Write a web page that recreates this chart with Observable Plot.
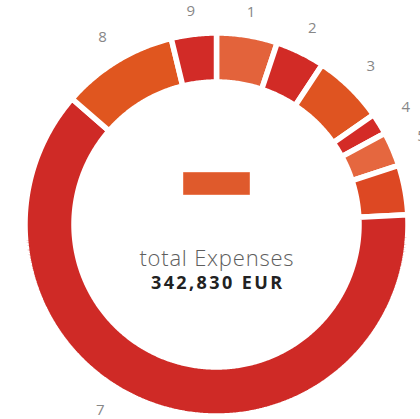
<!DOCTYPE html>
<html>
<head>
<meta charset="utf-8">
<script src="https://cdn.jsdelivr.net/npm/d3@7"></script>
<script src="https://cdn.jsdelivr.net/npm/@observablehq/plot@0.6"></script>
<style>
  html, body { margin: 0; padding: 0; background: #fff; }
  #chart { width: 420px; height: 419px; overflow: hidden; }
  #chart g[font-size="22"] text { letter-spacing: 0.8px; }
  #chart g[font-size="18"] text { letter-spacing: 2.4px; }
</style>
</head>
<body>
<div id="chart"></div>
<script>
// ---- data ----
const categories = ["1", "2", "3", "4", "5", "6", "7", "8", "9"];
const values = [17600, 14300, 20500, 6200, 10000, 14300, 213300, 33600, 13030];
const sliceColors = ["#e3633b", "#d22b26", "#df5421", "#d42b27", "#e5673f", "#dd4823", "#cf2a26", "#e0561f", "#d22b27"];
const centerTitle = "total Expenses";
const centerValue = "342,830 EUR";
const swatchColor = "#df5a2c";

// ---- layout ----
const W = 420, H = 419;
const cx = 216, cy = 224;             // donut centre in pixels
const rOuter = 191.5, rInner = 142.5; // the white stroke trims these
const labelR = a => 214 + 10 * Math.abs(Math.sin(a));

const pie = d3.pie().sort(null).value(d => d.value)(
  categories.map((c, i) => ({ key: c, value: values[i], color: sliceColors[i] }))
);

// slice outlines in data units (1 unit = 1 px, y up)
const outline = [];
for (const s of pie) {
  const n = Math.max(4, Math.ceil((s.endAngle - s.startAngle) / (Math.PI / 360)));
  for (let k = 0; k <= n; k++) {
    const a = s.startAngle + (s.endAngle - s.startAngle) * k / n;
    outline.push({ key: s.data.key, color: s.data.color, x: rOuter * Math.sin(a), y: rOuter * Math.cos(a) });
  }
  for (let k = n; k >= 0; k--) {
    const a = s.startAngle + (s.endAngle - s.startAngle) * k / n;
    outline.push({ key: s.data.key, color: s.data.color, x: rInner * Math.sin(a), y: rInner * Math.cos(a) });
  }
}

// labels at mid angle, slid along their circle to stay inside the frame;
// labels lying wholly beyond the right edge are not drawn
const yMin = -(H - cy) + 9;
const labels = pie.map(s => {
  let a = (s.startAngle + s.endAngle) / 2;
  if (labelR(a) * Math.cos(a) < yMin) {
    for (let it = 0; it < 20; it++) {
      const lim = Math.acos(Math.max(-1, yMin / labelR(a)));
      a = a > Math.PI ? 2 * Math.PI - lim : lim;
    }
  }
  const r = labelR(a);
  return { key: s.data.key, x: r * Math.sin(a), y: r * Math.cos(a) };
}).filter(d => d.x < W - cx + 4);

const rectSymbol = {
  draw(context) { context.rect(-33, -11, 66, 22); }
};

const chart = Plot.plot({
  width: W,
  height: H,
  margin: 0,
  x: { domain: [-cx, W - cx], axis: null },
  y: { domain: [-(H - cy), cy], axis: null },
  style: { background: "#fff", fontFamily: "'Open Sans', sans-serif" },
  marks: [
    Plot.line(outline, {
      x: "x", y: "y", z: "key",
      fill: "color",
      stroke: "#fff",
      strokeWidth: 5.5,
      strokeLinejoin: "miter",
      curve: "linear-closed"
    }),
    Plot.text(labels, {
      x: "x", y: "y", text: "key",
      fill: "#878787", fontSize: 15, fontWeight: 400,
      textAnchor: "middle", lineAnchor: "middle"
    }),
    Plot.dot([0], {
      x: () => 0, y: () => 0, dy: -41,
      symbol: rectSymbol, fill: swatchColor, stroke: "#ea7a52", strokeWidth: 1
    }),
    Plot.text([centerTitle], {
      x: () => 0, y: () => 0, text: d => d, dy: 34, dx: 0.4,
      fill: "#5e5e5e", fontSize: 22, fontWeight: 300,
      textAnchor: "middle", lineAnchor: "middle"
    }),
    Plot.text([centerValue], {
      x: () => 0, y: () => 0, text: d => d, dy: 58.5, dx: 1.2,
      fill: "#222", fontSize: 18, fontWeight: 700,
      textAnchor: "middle", lineAnchor: "middle"
    })
  ]
});

document.getElementById("chart").appendChild(chart);
</script>
</body>
</html>
